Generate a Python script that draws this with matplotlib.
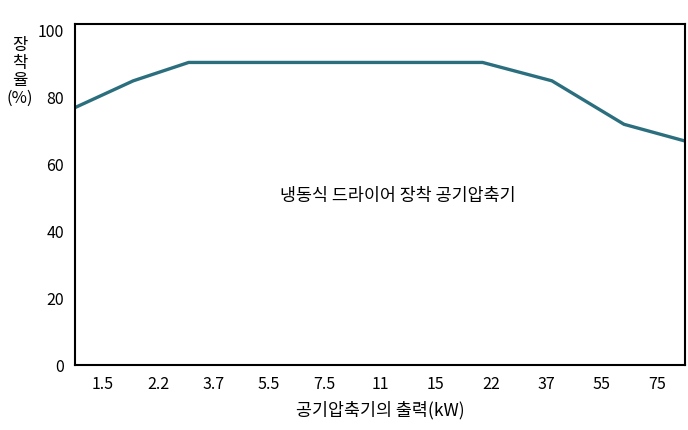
import matplotlib
matplotlib.use("Agg")
import matplotlib.pyplot as plt

plt.rcParams["font.family"] = ["Noto Sans CJK KR", "DejaVu Sans"]

tick_labels = ["1.5", "2.2", "3.7", "5.5", "7.5", "11", "15", "22", "37", "55", "75"]
line_x = [-0.5, 0.55, 1.55, 6.85, 8.1, 9.4, 10.5]
line_y = [77, 85, 90.5, 90.5, 85, 72, 67]

fig = plt.figure(figsize=(6.88, 4.30), dpi=100)
ax = fig.add_axes([75 / 688, 65 / 430, 610 / 688, 341 / 430])
ax.plot(line_x, line_y, color="#2b6f7f", linewidth=2.4)
ax.set_xlim(-0.5, 10.5)
ax.set_ylim(0, 102)
ax.set_xticks(range(len(tick_labels)), tick_labels)
ax.set_yticks([0, 20, 40, 60, 80, 100])
ax.tick_params(length=0, labelsize=11.5, pad=8)
for s in ax.spines.values():
    s.set_linewidth(1.5)
ax.text(0.53, 0.495, "냉동식 드라이어 장착 공기압축기", transform=ax.transAxes,
        ha="center", va="center", fontsize=12.5)
ax.set_xlabel("공기압축기의 출력(kW)", fontsize=12.5, labelpad=6)
fig.text(20 / 688, 1 - 72 / 430, "장\n착\n율\n(%)", ha="center", va="center",
         fontsize=12, linespacing=1.05)
fig.savefig("out.png", dpi=100)
